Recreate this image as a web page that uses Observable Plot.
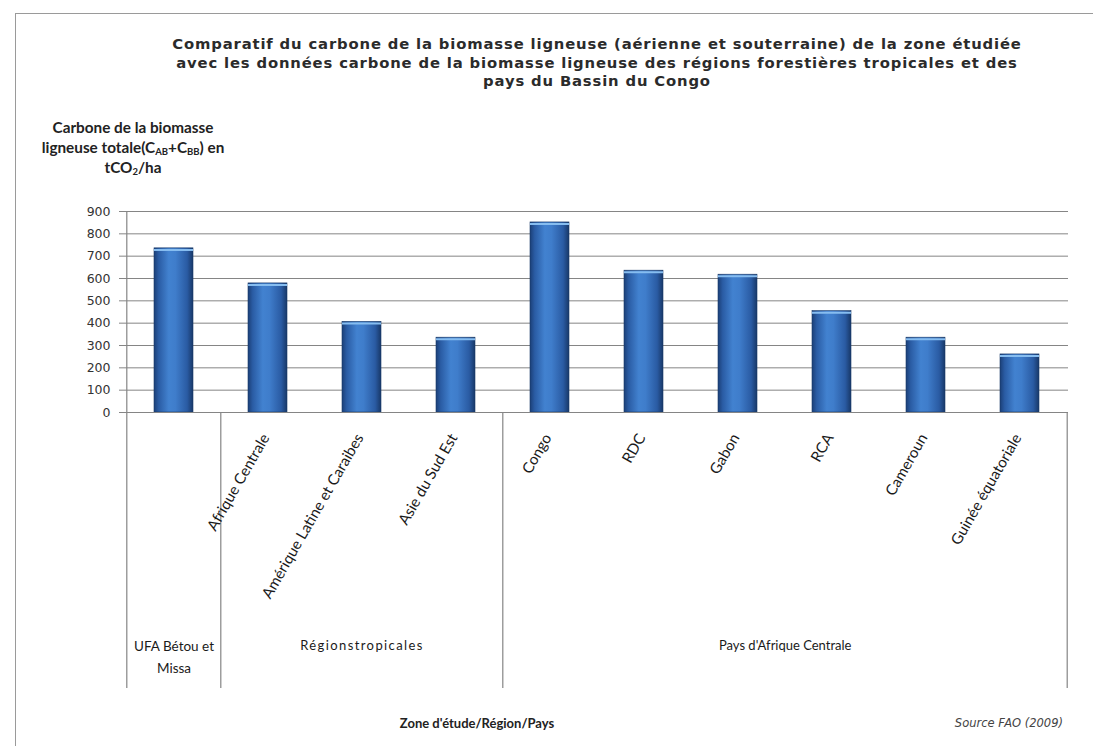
<!DOCTYPE html>
<html>
<head>
<meta charset="utf-8">
<script src="https://cdn.jsdelivr.net/npm/d3@7"></script>
<script src="https://cdn.jsdelivr.net/npm/@observablehq/plot@0.6"></script>
<style>
  body { margin: 0; background: #fff; }
  #page { position: relative; width: 1093px; height: 746px; overflow: hidden; background: #fff; }
  #border { position: absolute; left: 15px; top: 13px; right: -2px; bottom: -2px;
            border-top: 1.5px solid #9a9a9a; border-left: 1.5px solid #9a9a9a; pointer-events: none; }
  #chart { position: absolute; left: 0; top: 0; }
  .title { position: absolute; left: 47px; width: 1100px; top: 35px; text-align: center;
           font-family: "DejaVu Sans", sans-serif; font-weight: bold; font-size: 14.8px; letter-spacing: 0.85px;
           line-height: 18.5px; color: #2b2b2b; }
  .ylabel { position: absolute; left: 13px; width: 240px; top: 117px; text-align: center;
            font-family: Lato, sans-serif; font-weight: bold; font-size: 15.3px; line-height: 20px; color: #222; }
  .ylabel sub { font-size: 9.5px; vertical-align: -2px; line-height: 0; }
  .xtitle { position: absolute; left: 277px; width: 400px; top: 714px; text-align: center;
            font-family: Lato, sans-serif; font-weight: bold; font-size: 13px; line-height: 18px; color: #222; }
  .source { position: absolute; right: 30px; top: 714px; font-family: "DejaVu Sans", sans-serif;
            font-style: italic; font-size: 11.5px; line-height: 18px; color: #444; }
  .spaced text { letter-spacing: 1.4px; }
</style>
</head>
<body>
<div id="page">
  <div id="chart"></div>
  <div id="border"></div>
  <div class="title">Comparatif du carbone de la biomasse ligneuse (aérienne et souterraine) de la zone étudiée<br>avec les données carbone de la biomasse ligneuse des régions forestières tropicales et des<br>pays du Bassin du Congo</div>
  <div class="ylabel">Carbone de la biomasse<br>ligneuse totale(C<sub>AB</sub>+C<sub>BB</sub>) en<br>tCO<sub>2</sub>/ha</div>
  <div class="xtitle">Zone d'étude/Région/Pays</div>
  <div class="source">Source FAO (2009)</div>
</div>
<script>
// ---- data ----
const categories = ["UFA Bétou et Missa", "Afrique Centrale", "Amérique Latine et Caraibes", "Asie du Sud Est",
  "Congo", "RDC", "Gabon", "RCA", "Cameroun", "Guinée équatoriale"];
const tickLabels = ["", "Afrique Centrale", "Amérique Latine et Caraibes", "Asie du Sud Est",
  "Congo", "RDC", "Gabon", "RCA", "Cameroun", "Guinée équatoriale"];
const values = [735, 578, 406, 335, 851, 635, 617, 454, 335, 260];
const groups = ["UFA Bétou et\nMissa", "Régionstropicales", "Pays d'Afrique Centrale"];
const groupSizes = [1, 3, 6];
const yTicks = [0, 100, 200, 300, 400, 500, 600, 700, 800, 900];

// ---- layout ----
const W = 1093, H = 746, mL = 124, mR = 25, mT = 211, mB = 334;
const step = (W - mL - mR) / categories.length;
const frameH = H - mT - mB;
const boxDepth = 276;
const lineColor = "#858585";

const data = categories.map((c, i) => ({category: c, label: tickLabels[i], value: values[i]}));
let s = 0;
const groupData = groups.map((g, k) => {
  const first = s; s += groupSizes[k]; const last = s - 1;
  return {name: g, first: categories[first], last: categories[last], size: groupSizes[k],
          mid: categories[Math.floor((first + last) / 2)], even: groupSizes[k] % 2 === 0};
});

const defs = () => {
  const ns = "http://www.w3.org/2000/svg";
  const d = document.createElementNS(ns, "defs");
  d.innerHTML = `<linearGradient id="barGrad" x1="0" x2="1" y1="0" y2="0">
      <stop offset="0" stop-color="#1b3f77"/>
      <stop offset="0.12" stop-color="#2a5ca4"/>
      <stop offset="0.38" stop-color="#4282d0"/>
      <stop offset="0.55" stop-color="#3f7dcb"/>
      <stop offset="0.85" stop-color="#2a5ba3"/>
      <stop offset="1" stop-color="#183868"/>
    </linearGradient>`;
  return d;
};

const labelOpts = {frameAnchor: "bottom", lineAnchor: "top", lineHeight: 1.62, dy: 223, fontSize: 13, fill: "#1a1a1a"};

const chart = Plot.plot({
  width: W, height: H,
  marginLeft: mL, marginRight: mR, marginTop: mT, marginBottom: mB,
  style: {fontFamily: "Lato, sans-serif", fontSize: "13px", background: "transparent", color: "#222"},
  x: {domain: categories, paddingInner: 0.59, paddingOuter: 0.295, axis: null},
  y: {domain: [0, 900]},
  marks: [
    defs,
    Plot.ruleY(yTicks.filter(v => v > 0), {stroke: lineColor, strokeWidth: 1}),
    Plot.axisY({ticks: yTicks, tickSize: 5, tickPadding: 9, label: null, stroke: lineColor,
                fill: "#333", fontFamily: "DejaVu Sans, sans-serif", fontSize: 12.5, tickFormat: d => String(d)}),
    Plot.barY(data, {x: "category", y: "value", fill: "url(#barGrad)", stroke: "#1a3a68", strokeWidth: 0.6}),
    Plot.tickY(data, {x: "category", y: "value", stroke: "#86bdf0", strokeWidth: 2, dy: 1.6}),
    Plot.ruleY([0], {stroke: lineColor, strokeWidth: 1.2}),
    // left axis line + box
    Plot.ruleX([categories[0]], {dx: -step / 2, insetBottom: -boxDepth, stroke: lineColor, strokeWidth: 1.2}),
    // group separators
    Plot.ruleX(groupData.slice(1), {x: "first", dx: -step / 2, insetTop: frameH, insetBottom: -boxDepth, stroke: lineColor, strokeWidth: 1.2}),
    Plot.ruleX([categories[categories.length - 1]], {dx: step / 2, insetTop: frameH, insetBottom: -boxDepth, stroke: lineColor, strokeWidth: 1.2}),
    // rotated category labels
    Plot.text(data, {x: "category", text: "label", frameAnchor: "bottom", rotate: -60, textAnchor: "end",
                     dx: 2, dy: 25, fontSize: 15.1, fill: "#1a1a1a"}),
    // group labels
    Plot.text(groupData.filter(d => d.size === 1), {x: "mid", text: "name", ...labelOpts, fontSize: 13.5}),
    Plot.text(groupData.filter(d => d.size > 1 && !d.even), {x: "mid", text: "name", ...labelOpts, className: "spaced"}),
    Plot.text(groupData.filter(d => d.even), {x: "mid", text: "name", ...labelOpts, dx: step / 2})
  ]
});
document.getElementById("chart").appendChild(chart);
</script>
</body>
</html>
